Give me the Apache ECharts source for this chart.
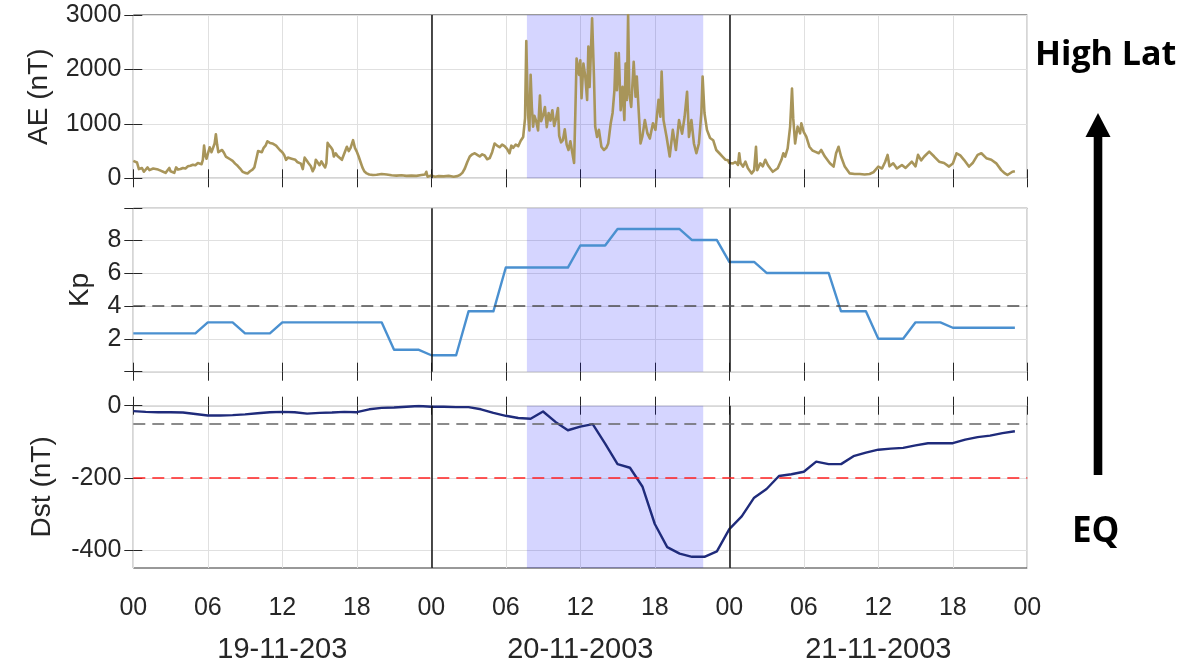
<!DOCTYPE html>
<html>
<head>
<meta charset="utf-8">
<script src="https://cdn.jsdelivr.net/npm/echarts@6/dist/echarts.min.js"></script>
<style>html,body{margin:0;padding:0;background:#fff;}#chart{width:1202px;height:664px;}</style>
</head>
<body>
<div id="chart"></div>
<script>
// ---- tick labels ----
const hourLabels = ['00', '06', '12', '18'];
const dateLabels = ['19-11-203', '20-11-2003', '21-11-2003'];
const dateCenters = [12, 36, 60];

// ---- event markers (hours since 19-11-2003 00 UT) ----
const stormWindow = [31.7, 45.9];
const dayBoundaries = [24, 48];
const kpThreshold = 4;
const dstThresholds = [-50, -200];

// ---- Kp, 3-hourly values (8 per day) ----
const kp3h = [
  2.33, 2.33, 3, 2.33, 3, 3, 3, 1.33,
  1.0, 3.67, 6.33, 6.33, 7.67, 8.67, 8.67, 8.0,
  6.67, 6.0, 6.0, 3.67, 2.0, 3.0, 2.67, 2.67
];

// ---- Dst, hourly values (nT) ----
const dstHourly = [
  -15, -17, -18, -18, -19, -23, -27, -27, -26, -24, -21, -18,
  -17, -18, -22, -20, -19, -17, -18, -10, -6, -5, -3, -1,
  -3, -3, -4, -4, -10, -20, -28, -34, -36, -16, -45, -68,
  -58, -51, -105, -162, -172, -224, -328, -392, -410, -419, -419, -404,
  -342, -307, -255, -231, -195, -190, -183, -155, -162, -162, -140, -130,
  -122, -119, -117, -110, -104, -104, -104, -94, -87, -83, -76, -71
];

// ---- AE (nT), [hour, value] ----
const ae19 = [
  [0,320],[0.15,300],[0.3,290],[0.45,170],[0.55,150],[0.7,190],[0.85,120],[1.0,110],[1.15,200],[1.3,150],
  [1.45,130],[1.6,180],[1.8,170],[2.0,160],[2.2,140],[2.4,120],[2.6,100],[2.75,110],[2.9,190],[3.0,130],
  [3.15,150],[3.3,100],[3.45,200],[3.6,160],[3.8,170],[4.0,190],[4.2,180],[4.4,220],[4.6,230],[4.8,250],
  [5.0,240],[5.2,280],[5.35,300],[5.5,260],[5.6,340],[5.7,600],[5.8,420],[5.9,360],[6.05,380],[6.15,570],
  [6.3,480],[6.45,450],[6.55,640],[6.65,810],[6.75,620],[6.85,480],[7.0,460],[7.15,520],[7.3,470],[7.45,400],
  [7.6,420],[7.8,350],[8.0,320],[8.2,270],[8.4,230],[8.6,180],[8.8,120],[9.0,100],[9.2,90],[9.4,130],
  [9.6,160],[9.75,200],[9.9,350],[10.05,500],[10.2,520],[10.35,480],[10.5,560],[10.65,600],[10.8,680],[10.9,700],
  [11.0,650],[11.2,640],[11.35,670],[11.5,600],[11.65,580],[11.8,520],[12.0,480],[12.15,430],[12.3,340],[12.45,380],
  [12.6,400],[12.75,360],[12.9,330],[13.05,340],[13.2,300],[13.35,290],[13.5,270],[13.65,170],[13.8,380],[13.95,330],
  [14.1,280],[14.3,220],[14.45,130],[14.6,200],[14.7,340],[14.85,290],[15.0,240],[15.15,310],[15.3,250],[15.45,200],
  [15.55,280],[15.65,650],[15.8,600],[15.95,560],[16.05,520],[16.15,400],[16.3,460],[16.45,410],[16.6,380],[16.8,340],
  [16.95,330],[17.1,520],[17.2,580],[17.35,500],[17.5,560],[17.7,700],[17.85,560],[18.0,490],[18.15,400],[18.3,300],
  [18.45,200],[18.6,130],[18.8,90],[19.0,70],[19.3,60],[19.6,65],[20.0,80],[20.4,70],[20.8,55],[21.2,50],
  [21.6,55],[22.0,45],[22.4,50],[22.8,45],[23.2,60],[23.5,70],[23.6,120],[23.7,30],[23.85,60]
];
const ae20 = [
  [24.0,50],[24.3,30],[24.6,40],[25.0,35],[25.4,45],[25.8,30],[26.1,40],[26.3,60],[26.5,100],[26.7,180],
  [26.9,300],[27.1,400],[27.3,440],[27.5,460],[27.7,430],[27.9,400],[28.1,440],[28.3,420],[28.5,350],[28.7,370],
  [28.9,480],[29.1,640],[29.3,600],[29.5,570],[29.7,620],[29.9,590],[30.1,540],[30.3,460],[30.45,600],[30.6,560],
  [30.8,620],[31.0,590],[31.2,690],[31.4,760],[31.55,1100],[31.65,2520],[31.72,1800],[31.8,1150],[31.9,880],[32.0,1900],
  [32.1,1300],[32.2,950],[32.3,1150],[32.45,1050],[32.6,880],[32.75,1520],[32.85,1050],[33.0,1150],[33.15,1310],[33.3,940],
  [33.45,1200],[33.6,1060],[33.75,1250],[33.9,960],[34.05,1100],[34.2,1290],[34.3,780],[34.45,660],[34.6,700],[34.75,900],
  [34.9,620],[35.05,520],[35.2,680],[35.35,480],[35.5,280],[35.6,1200],[35.7,2200],[35.8,2050],[35.9,1900],[36.0,2170],
  [36.1,1470],[36.25,2110],[36.4,1870],[36.55,1440],[36.65,2420],[36.75,1680],[36.95,2940],[37.1,1870],[37.2,950],[37.35,760],
  [37.5,890],[37.7,580],[37.9,520],[38.1,560],[38.25,640],[38.45,1010],[38.6,1200],[38.75,1620],[38.85,2300],[38.95,1620],
  [39.1,2300],[39.25,1250],[39.4,1680],[39.55,1070],[39.65,2110],[39.75,1440],[39.85,3000],[39.95,1560],[40.1,1310],[40.3,2140],
  [40.45,1500],[40.55,1870],[40.7,1250],[40.85,640],[41.0,770],[41.2,1070],[41.4,830],[41.6,730],[41.85,1010],[42.05,890],
  [42.3,1440],[42.45,1130],[42.55,1960],[42.7,1070],[42.95,760],[43.2,400],[43.45,890],[43.7,520],[43.95,1070],[44.2,820],
  [44.4,1130],[44.6,1590],[44.75,760],[44.95,1070],[45.15,640],[45.35,460],[45.55,640],[45.75,1200],[45.85,1870],[46.0,1200],
  [46.2,890],[46.45,740],[46.7,700],[46.95,520],[47.2,460],[47.45,400],[47.7,340],[47.9,330]
];
const ae21 = [
  [48.0,280],[48.3,275],[48.5,300],[48.7,245],[48.8,460],[48.9,280],[49.1,215],[49.3,305],[49.5,185],[49.8,90],
  [50.0,150],[50.15,580],[50.25,150],[50.5,275],[50.7,220],[50.9,340],[51.1,245],[51.3,180],[51.5,120],[51.9,185],
  [52.2,340],[52.35,460],[52.5,400],[52.7,550],[52.9,950],[53.05,1650],[53.15,1100],[53.3,640],[53.5,950],[53.7,825],
  [53.8,1010],[54.0,850],[54.2,765],[54.45,580],[54.7,510],[54.9,490],[55.2,460],[55.4,520],[55.7,400],[56.1,275],
  [56.4,215],[56.6,460],[56.8,580],[57.0,400],[57.3,215],[57.7,90],[58.1,80],[58.5,80],[58.9,70],[59.3,80],
  [59.6,110],[60.0,215],[60.3,180],[60.55,300],[60.75,430],[60.9,220],[61.2,275],[61.5,180],[61.9,245],[62.2,190],
  [62.7,305],[63.0,220],[63.2,430],[63.45,330],[63.7,400],[64.1,490],[64.5,400],[64.9,305],[65.3,280],[65.7,215],
  [66.0,270],[66.3,460],[66.6,420],[66.9,340],[67.3,215],[67.6,280],[68.0,430],[68.3,460],[68.7,370],[69.1,340],
  [69.5,275],[69.9,150],[70.2,90],[70.4,60],[70.8,120],[71.0,130]
];

// ---- styling ----
const FONT = "'Liberation Sans', Arial, Helvetica, sans-serif";
const TXT = '#262626';
const GRIDC = '#e0e0e0';
const SHADE = 'rgba(0,0,255,0.165)';
const C_AE = '#a8955a', C_KP = '#4a90d0', C_DST = '#1f2b7b';

const chart = echarts.init(document.getElementById('chart'), null, { renderer: 'canvas' });

const panels = [
  { top: 15, height: 163.3 },
  { top: 208.3, height: 163.4 },
  { top: 405.7, height: 163.6 }
];

const grids = panels.map(p => ({
  left: 133.3, width: 894, top: p.top, height: p.height,
  show: true, borderColor: '#333333', borderWidth: 1, backgroundColor: 'transparent', containLabel: false
}));

const xAxes = [];
for (let i = 0; i < 3; i++) {
  xAxes.push({
    type: 'value', gridIndex: i, min: 0, max: 72, interval: 6, position: 'bottom',
    axisLine: { show: false },
    axisTick: { show: true, inside: true, length: 9, lineStyle: { color: TXT, width: 1 } },
    axisLabel: {
      show: i === 2, margin: 28, fontSize: 25, color: TXT, fontFamily: FONT,
      showMinLabel: true, showMaxLabel: true,
      formatter: v => hourLabels[Math.round((v % 24) / 6)]
    },
    splitLine: { show: true, lineStyle: { color: GRIDC, width: 1 } }
  });
}
for (let i = 0; i < 3; i++) {
  xAxes.push({
    type: 'value', gridIndex: i, min: 0, max: 72, interval: 6, position: 'top',
    axisLine: { show: false },
    axisTick: { show: true, inside: true, length: 9, lineStyle: { color: TXT, width: 1 } },
    axisLabel: { show: false }, splitLine: { show: false }
  });
}
xAxes.push({
  type: 'value', gridIndex: 2, min: 0, max: 72, interval: 12, position: 'bottom',
  axisLine: { show: false }, axisTick: { show: false }, splitLine: { show: false },
  axisLabel: {
    show: true, margin: 67, fontSize: 29, color: TXT, fontFamily: FONT,
    formatter: v => { const k = dateCenters.indexOf(v); return k >= 0 ? dateLabels[k] : ''; }
  }
});

const yDefs = [
  { min: 0, max: 3000, interval: 1000, name: 'AE (nT)', nameGap: 80, fmt: v => String(v) },
  { min: 0, max: 9.93, interval: 2, name: 'Kp', nameGap: 39,
    fmt: v => (v >= 2 && v <= 8 && Math.abs(v % 2) < 1e-9) ? String(v) : '' },
  { min: -450, max: 0, custom: [-400, -200, 0], name: 'Dst (nT)', nameGap: 77, fmt: v => String(v) }
];
const yAxes = [];
yDefs.forEach((d, i) => {
  const ax = {
    type: 'value', gridIndex: i, min: d.min, max: d.max, position: 'left',
    name: d.name, nameLocation: 'middle', nameGap: d.nameGap,
    nameTextStyle: { fontSize: 28, color: TXT, fontFamily: FONT },
    axisLine: { show: false },
    axisTick: { show: true, inside: true, length: 9, lineStyle: { color: TXT, width: 1 } },
    axisLabel: { show: true, margin: 12, fontSize: 25, color: TXT, fontFamily: FONT, formatter: d.fmt },
    splitLine: { show: true, lineStyle: { color: GRIDC, width: 1 } }
  };
  if (d.interval) ax.interval = d.interval;
  if (d.custom) { ax.axisTick.customValues = d.custom; ax.axisLabel.customValues = d.custom; }
  yAxes.push(ax);
});
yDefs.forEach((d, i) => {
  const ax = {
    type: 'value', gridIndex: i, min: d.min, max: d.max, position: 'right',
    axisLine: { show: false },
    axisTick: { show: true, inside: true, length: 9, lineStyle: { color: TXT, width: 1 } },
    axisLabel: { show: false }, splitLine: { show: false }
  };
  if (d.interval) ax.interval = d.interval;
  if (d.custom) { ax.axisTick.customValues = d.custom; ax.axisLabel.customValues = d.custom; }
  yAxes.push(ax);
});

const dayLines = dayBoundaries.map(x => ({ xAxis: x, lineStyle: { color: '#111111', width: 1.5, type: 'solid' } }));

const aeData = ae19.concat(ae20, ae21);
const kpData = [];
kp3h.forEach((v, i) => { for (let k = 0; k < 3; k++) kpData.push([i * 3 + k, v]); });
const dstData = dstHourly.map((v, i) => [i, v]);

function lineSeries(idx, data, color, width, extraLines) {
  return {
    type: 'line', xAxisIndex: idx, yAxisIndex: idx, data: data, showSymbol: false, symbol: 'none',
    lineStyle: { color: color, width: width, join: 'round' }, itemStyle: { color: color }, z: 3, silent: true,
    markLine: {
      silent: true, symbol: ['none', 'none'], label: { show: false }, animation: false,
      data: dayLines.concat(extraLines)
    }
  };
}
function shadeSeries(idx) {
  return {
    type: 'line', xAxisIndex: idx, yAxisIndex: idx, data: [], z: 10, silent: true,
    markArea: { silent: true, itemStyle: { color: SHADE }, data: [[{ xAxis: stormWindow[0] }, { xAxis: stormWindow[1] }]] }
  };
}

const option = {
  animation: false,
  backgroundColor: '#ffffff',
  grid: grids,
  xAxis: xAxes,
  yAxis: yAxes,
  series: [
    lineSeries(0, aeData, C_AE, 2.6, []),
    lineSeries(1, kpData, C_KP, 2.4, [
      { yAxis: kpThreshold, lineStyle: { color: '#4d4d4d', width: 1.6, type: [12, 7] } }
    ]),
    lineSeries(2, dstData, C_DST, 2.4, [
      { yAxis: dstThresholds[0], lineStyle: { color: '#666666', width: 1.6, type: [12, 7] } },
      { yAxis: dstThresholds[1], lineStyle: { color: '#ff2020', width: 1.5, type: [12, 7] } }
    ]),
    shadeSeries(0), shadeSeries(1), shadeSeries(2)
  ],
  graphic: [
    { type: 'text', left: 1035, top: 38, style: { text: 'High Lat', fontSize: 34, fontWeight: 'bold', fontFamily: "'Open Sans', sans-serif", fill: '#000' } },
    { type: 'text', left: 1072, top: 515, style: { text: 'EQ', fontSize: 35, fontWeight: 'bold', fontFamily: "'Open Sans', sans-serif", fill: '#000' } },
    { type: 'rect', shape: { x: 1093.7, y: 133, width: 8.6, height: 342 }, style: { fill: '#000' } },
    { type: 'polygon', shape: { points: [[1085.5, 137], [1110.5, 137], [1098, 113]] }, style: { fill: '#000' } }
  ]
};
chart.setOption(option);
</script>
</body>
</html>
